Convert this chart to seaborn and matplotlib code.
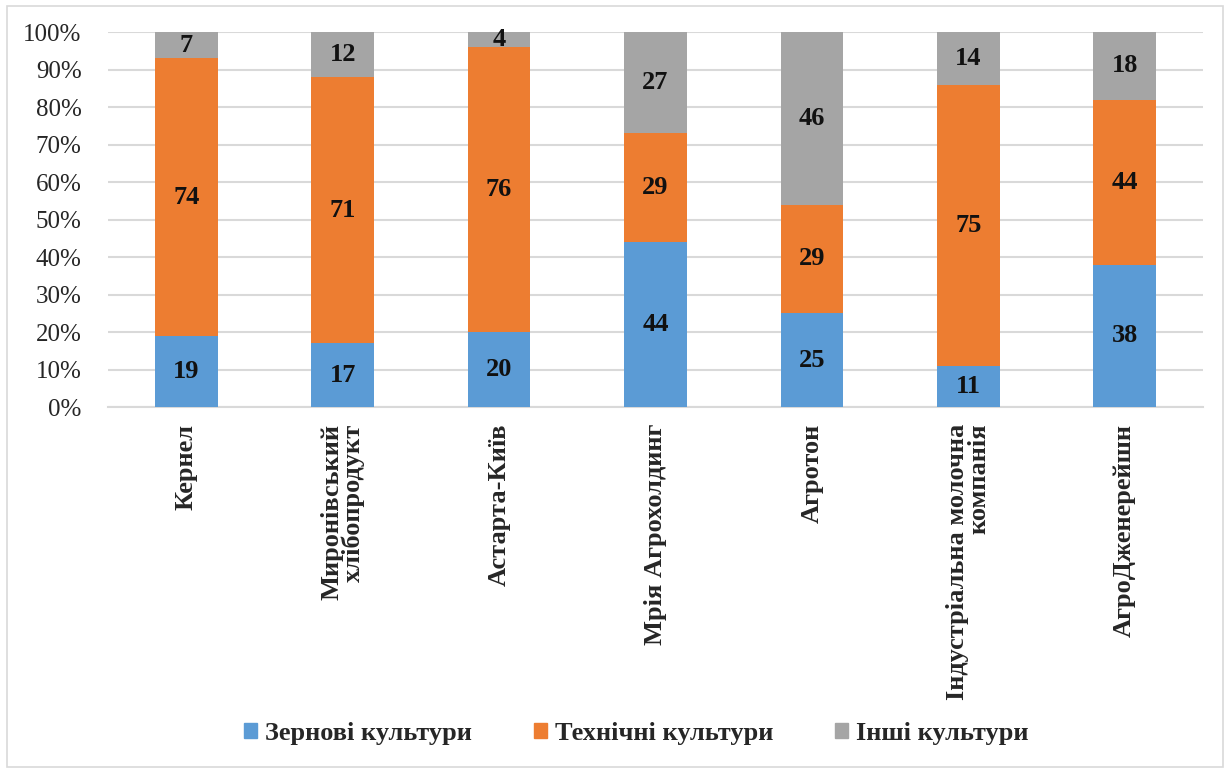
import numpy as np
import pandas as pd
import matplotlib.pyplot as plt
import matplotlib.patches as mpatches
import seaborn as sns

# Data
companies = [
    "Кернел",
    "Миронівський\nхлібопродукт",
    "Астарта-Київ",
    "Мрія Агрохолдинг",
    "Агротон",
    "Індустріальна молочна\nкомпанія",
    "АгроДженерейшн",
]
series_names = ["Зернові культури", "Технічні культури", "Інші культури"]
grain = [19, 17, 20, 44, 25, 11, 38]
technical = [74, 71, 76, 29, 29, 75, 44]
other = [7, 12, 4, 27, 46, 14, 18]
colors = ["#5B9BD5", "#ED7D31", "#A5A5A5"]

sns.set_theme(style="white")
plt.rcParams["font.family"] = ["Liberation Serif", "DejaVu Serif"]

fig = plt.figure(figsize=(12.28, 7.7), dpi=100)
ax = fig.add_axes([0.088, 0.4714, 0.8916, 0.4870])

values = [grain, technical, other]
bottom = np.zeros(len(companies))
for name, vals, col in zip(series_names, values, colors):
    df = pd.DataFrame({"company": companies, "value": vals})
    sns.barplot(data=df, x="company", y="value", color=col, width=0.4,
                saturation=1, bottom=bottom, ax=ax, zorder=3, linewidth=0)
    # data labels in the middle of each segment
    for i, v in enumerate(vals):
        ax.text(i, bottom[i] + v / 2, str(v), ha="center", va="center",
                fontsize=19, fontweight="bold", color="#111111", zorder=4)
    bottom = bottom + np.array(vals)

ax.set_ylim(0, 100)
ax.set_xlim(-0.5, len(companies) - 0.5)
ax.set_yticks(np.arange(0, 101, 10))
ax.set_yticklabels([f"{t}%" for t in range(0, 101, 10)], fontsize=18)
ax.yaxis.grid(True, color="#D9D9D9", linewidth=1.5, zorder=0)
ax.set_axisbelow(True)
ax.tick_params(axis="both", length=0)
ax.tick_params(axis="y", pad=19)
ax.tick_params(axis="x", pad=12)
for lab in ax.get_xticklabels():
    lab.set_rotation(90)
    lab.set_fontsize(19)
    lab.set_fontweight("bold")
    lab.set_ha("center")
    lab.set_va("top")
    lab.set_multialignment("right")
    lab.set_linespacing(0.9)
ax.set_xlabel("")
ax.set_ylabel("")
for s in ["top", "right", "left"]:
    ax.spines[s].set_visible(False)
ax.spines["bottom"].set_color("#D9D9D9")
ax.spines["bottom"].set_linewidth(1.5)

handles = [mpatches.Patch(color=c, label=n) for c, n in zip(colors, series_names)]
fig.legend(handles=handles, loc="center", bbox_to_anchor=(0.518, 0.048), ncol=3,
           frameon=False, handlelength=0.5, handleheight=0.5, handletextpad=0.3,
           columnspacing=2.35, prop={"size": 19, "weight": "bold"})

# light border around the whole chart
fig.patches.append(mpatches.Rectangle((0.006, 0.004), 0.99, 0.988, transform=fig.transFigure,
                                      fill=False, edgecolor="#D9D9D9", linewidth=1.2))

fig.savefig("out.png", dpi=100)
